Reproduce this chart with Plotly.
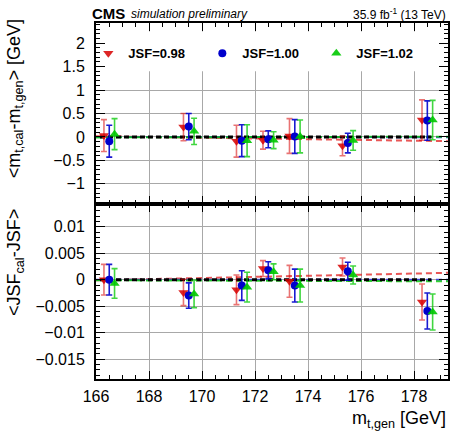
import plotly.graph_objects as go

# ---------------- data ----------------
mass_gen = [166.5, 169.5, 171.5, 172.5, 173.5, 175.5, 178.5]
jsf_labels = ["JSF=0.98", "JSF=1.00", "JSF=1.02"]

mbias_098 = [0.03, 0.21, -0.09, -0.07, 0.02, -0.19, 0.36]
mbias_098_err = [0.34, 0.29, 0.34, 0.19, 0.37, 0.21, 0.43]
mbias_100 = [-0.09, 0.22, -0.08, -0.05, 0.01, -0.13, 0.35]
mbias_100_err = [0.34, 0.28, 0.34, 0.18, 0.36, 0.21, 0.42]
mbias_102 = [0.06, 0.12, -0.08, -0.07, 0.01, -0.075, 0.36]
mbias_102_err = [0.33, 0.28, 0.34, 0.18, 0.35, 0.21, 0.42]

jbias_098 = [0.0, -0.0024, -0.0019, 0.0021, -0.0003, 0.0024, -0.0042]
jbias_098_err = [0.0029, 0.0025, 0.0028, 0.0015, 0.0030, 0.0017, 0.0034]
jbias_100 = [0.0, -0.0030, -0.0011, 0.0018, -0.0011, 0.0016, -0.0059]
jbias_100_err = [0.0029, 0.0024, 0.0028, 0.0016, 0.0031, 0.0017, 0.0034]
jbias_102 = [-0.0007, -0.0027, -0.0014, 0.0015, -0.0011, 0.0009, -0.0061]
jbias_102_err = [0.0028, 0.0026, 0.0028, 0.0015, 0.0031, 0.0017, 0.0034]

# linear fit lines (value at left and right end of the axis)
x_range = [166.0, 179.28]
mfit_098 = [0.015, -0.09]
mfit_100 = [0.0, -0.005]
mfit_102 = [-0.01, 0.005]
jfit_098 = [-0.0001, 0.0013]
jfit_100 = [0.0, 0.0]
jfit_102 = [-0.0001, -0.0003]
ref_x = [166.15, 178.65]
ref_y = [0.0, 0.0]

x_ticks = [166, 168, 170, 172, 174, 176, 178]
ytop_range = [-1.43, 2.43]
ybot_range = [-0.01875, 0.0143]
legend_box = [1.40, 2.25]   # extent (top-panel axis units) of the white legend box

# ---------------- style ----------------
FONT = "Liberation Sans, Arial, Helvetica, sans-serif"
styles = [
    dict(color="rgba(215,0,0,0.85)", err="rgba(215,0,0,0.55)", fit="rgba(225,30,30,0.75)",
         symbol="triangle-down", size=9, dx=-0.2),
    dict(color="#0000cc", err="rgba(0,0,204,0.9)", fit="rgba(40,40,230,0.8)",
         symbol="circle", size=8, dx=0.0),
    dict(color="rgba(0,200,0,0.9)", err="rgba(0,200,0,0.75)", fit="rgba(0,200,0,0.8)",
         symbol="triangle-up", size=9, dx=0.2),
]
mvals = [(mbias_098, mbias_098_err), (mbias_100, mbias_100_err), (mbias_102, mbias_102_err)]
jvals = [(jbias_098, jbias_098_err), (jbias_100, jbias_100_err), (jbias_102, jbias_102_err)]
mfits = [mfit_098, mfit_100, mfit_102]
jfits = [jfit_098, jfit_100, jfit_102]

fig = go.Figure()

# fit lines
for st, mf, jf in zip(styles, mfits, jfits):
    fig.add_trace(go.Scatter(x=x_range, y=mf, mode="lines", xaxis="x", yaxis="y",
                             line=dict(color=st["fit"], width=2, dash="6px,4px"),
                             showlegend=False, hoverinfo="skip"))
    fig.add_trace(go.Scatter(x=x_range, y=jf, mode="lines", xaxis="x2", yaxis="y2",
                             line=dict(color=st["fit"], width=2, dash="6px,4px"),
                             showlegend=False, hoverinfo="skip"))
# reference lines
for xa, ya in (("x", "y"), ("x2", "y2")):
    fig.add_trace(go.Scatter(x=ref_x, y=ref_y, mode="lines", xaxis=xa, yaxis=ya,
                             line=dict(color="black", width=3, dash="5px,3px"),
                             showlegend=False, hoverinfo="skip"))

# data points
for st, lab, (mv, me), (jv, je) in zip(styles, jsf_labels, mvals, jvals):
    xs = [m + st["dx"] for m in mass_gen]
    fig.add_trace(go.Scatter(
        x=xs, y=mv, mode="markers", name=lab, xaxis="x", yaxis="y",
        marker=dict(symbol=st["symbol"], size=st["size"], color=st["color"]),
        error_y=dict(type="data", array=me, color=st["err"], thickness=1.6, width=3),
        showlegend=True))
    fig.add_trace(go.Scatter(
        x=xs, y=jv, mode="markers", name=lab, xaxis="x2", yaxis="y2",
        marker=dict(symbol=st["symbol"], size=st["size"], color=st["color"]),
        error_y=dict(type="data", array=je, color=st["err"], thickness=1.6, width=3),
        showlegend=False))

split = 0.4916
common_x = dict(range=x_range, tickvals=x_ticks, ticks="inside", ticklen=8,
                tickwidth=1, tickcolor="black", showline=True, linecolor="black",
                linewidth=2, mirror="allticks", showgrid=True, gridcolor="#a8a8a8",
                gridwidth=1, zeroline=False,
                minor=dict(dtick=0.5, ticks="inside", ticklen=4, tickcolor="black",
                           showgrid=False))
common_y = dict(ticks="inside", ticklen=9, tickwidth=1, tickcolor="black", showline=True,
                linecolor="black", linewidth=2, mirror="allticks", showgrid=True,
                gridcolor="#a8a8a8", gridwidth=1, zeroline=False,
                tickfont=dict(size=16, family=FONT, color="black"),
                ticklabelstandoff=6)

fig.update_layout(
    width=454, height=432,
    margin=dict(l=96, r=4, t=23, b=53),
    paper_bgcolor="white", plot_bgcolor="white",
    font=dict(family=FONT, color="black"),
    xaxis=dict(common_x, anchor="y", showticklabels=False),
    xaxis2=dict(common_x, anchor="y2", showticklabels=True,
                tickfont=dict(size=16, family=FONT, color="black"), ticklabelstandoff=2),
    yaxis=dict(common_y, domain=[split, 1.0], anchor="x", range=ytop_range,
               tickvals=[-1, -0.5, 0, 0.5, 1, 1.5, 2],
               ticktext=["−1", "−0.5", "0", "0.5", "1", "1.5", "2"],
               minor=dict(dtick=0.1, ticks="inside", ticklen=4, tickcolor="black",
                          showgrid=False)),
    yaxis2=dict(common_y, domain=[0.0, split], anchor="x2", range=ybot_range,
                tickvals=[-0.015, -0.01, -0.005, 0, 0.005, 0.01],
                ticktext=["−0.015", "−0.01", "−0.005", "0", "0.005", "0.01"],
                minor=dict(dtick=0.001, ticks="inside", ticklen=4, tickcolor="black",
                           showgrid=False)),
    legend=dict(orientation="h", x=0.464, y=0.915, yanchor="middle", xanchor="center",
                entrywidth=69, entrywidthmode="pixels", bgcolor="rgba(0,0,0,0)",
                font=dict(size=13, family=FONT, color="black", weight="bold"),
                itemclick=False),
    shapes=[dict(type="rect", xref="x", yref="y", x0=x_range[0], x1=x_range[1],
                 y0=legend_box[0], y1=legend_box[1],
                 fillcolor="white", line=dict(width=0), layer="between")],
    annotations=[
        dict(text="<b>CMS</b>", xref="paper", yref="paper", x=-0.017, y=1.027,
             xanchor="left", yanchor="middle", showarrow=False,
             font=dict(size=15, family=FONT, color="black")),
        dict(text="<i>simulation preliminary</i>", xref="paper", yref="paper", x=0.093,
             y=1.025, xanchor="left", yanchor="middle", showarrow=False,
             font=dict(size=12, family=FONT, color="black")),
        dict(text="35.9 fb<sup>-1</sup> (13 TeV)", xref="paper", yref="paper", x=1.0,
             y=1.025, xanchor="right", yanchor="middle", showarrow=False,
             font=dict(size=12, family=FONT, color="black")),
        dict(text="<m<sub>t,cal</sub>-m<sub>t,gen</sub>> [GeV]", xref="paper", yref="paper",
             x=-0.229, y=1.016, xanchor="center", yanchor="top", textangle=-90,
             showarrow=False, font=dict(size=18, family=FONT, color="black")),
        dict(text="<JSF<sub>cal</sub>-JSF>", xref="paper", yref="paper",
             x=-0.229, y=0.483, xanchor="center", yanchor="top", textangle=-90,
             showarrow=False, font=dict(size=18, family=FONT, color="black")),
        dict(text="m<sub>t,gen</sub> [GeV]", xref="paper", yref="paper", x=1.0, y=-0.113,
             xanchor="right", yanchor="middle", showarrow=False,
             font=dict(size=18, family=FONT, color="black")),
    ],
)

fig.write_html("out.html", post_script="document.body.style.margin='0';",
               config=dict(displayModeBar=False))
